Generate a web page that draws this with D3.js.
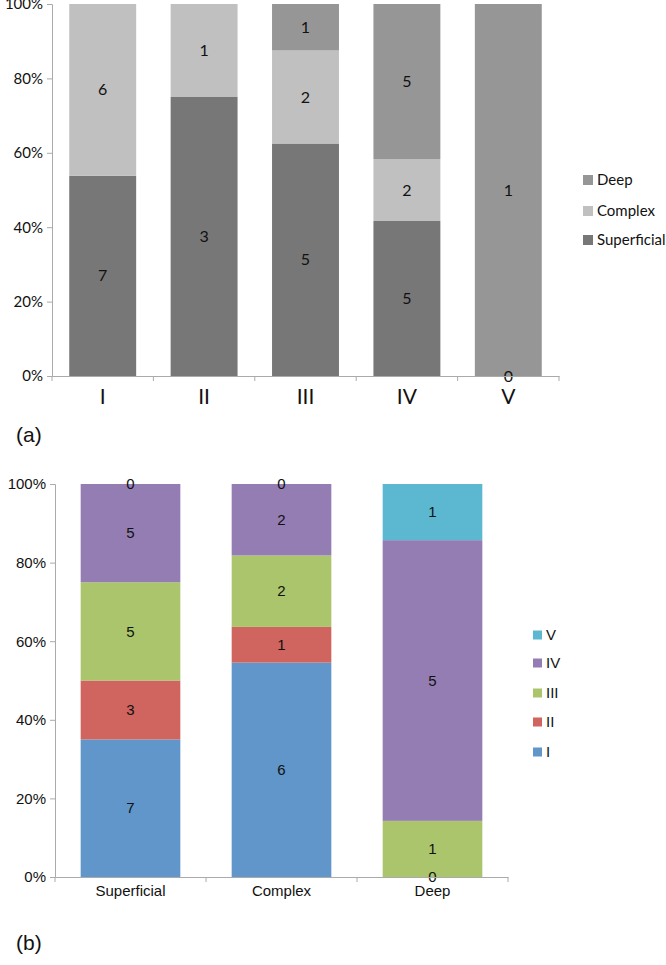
<!DOCTYPE html>
<html><head><meta charset="utf-8">
<script src="https://cdn.jsdelivr.net/npm/d3@7"></script>
<style>body{margin:0;background:#fff}svg{display:block}</style>
</head><body>
<svg id="c" width="666" height="965"></svg>
<script>
// ---- Chart (a) data ----
const catsA = ["I","II","III","IV","V"];
const seriesA = ["Superficial","Complex","Deep"];
const superficialA = [7,3,5,5,0];
const complexA = [6,1,2,2,0];
const deepA = [null,null,1,5,1];
const colorsA = ["#777777","#c0c0c0","#969696"];
// ---- Chart (b) data ----
const catsB = ["Superficial","Complex","Deep"];
const seriesB = ["I","II","III","IV","V"];
const valI = [7,6,0];
const valII = [3,1,0];
const valIII = [5,2,1];
const valIV = [5,2,5];
const valV = [0,0,1];
const colorsB = ["#6096c9","#d0645e","#aac56c","#947db3","#5cb8d1"];
const yTicks = [0,0.2,0.4,0.6,0.8,1];

const svg = d3.select("#c");

function drawChart(cfg){
  const g = svg.append("g");
  const x = d3.scaleBand().domain(cfg.cats).range([cfg.x0,cfg.x1]).paddingInner(cfg.pad).paddingOuter(cfg.pad/2);
  const y = d3.scaleLinear().domain([0,1]).range([cfg.y0,cfg.y1]);
  const rows = cfg.cats.map((c,i)=>{
    const vals = cfg.values.map(v=>v[i]);
    const total = d3.sum(vals.map(v=>v||0));
    let cum = 0;
    return vals.map((v,k)=>{ const a=cum; cum += (v||0); return {cat:c,k,v,p0:a/total,p1:cum/total}; });
  });
  rows.forEach(r=>r.forEach(d=>{
    if(d.v===null) return;
    g.append("rect").attr("x",x(d.cat)).attr("width",x.bandwidth())
      .attr("y",y(d.p1)).attr("height",y(d.p0)-y(d.p1)).attr("fill",cfg.colors[d.k]);
  }));
  const seen = new Set();
  rows.forEach(r=>r.forEach(d=>{
    if(d.v===null) return;
    const key = d.cat+"|"+((d.p0+d.p1)/2).toFixed(4);
    if(seen.has(key)) return; // coincident zero labels drawn once
    seen.add(key);
    g.append("text").attr("x",x(d.cat)+x.bandwidth()/2).attr("y",y((d.p0+d.p1)/2))
      .attr("dy","0.35em").attr("text-anchor","middle").attr("font-family",cfg.font)
      .attr("font-size",cfg.valSize).attr("fill","#111").text(d.v);
  }));
  const ya = g.append("g").attr("transform",`translate(${cfg.x0},0)`)
    .call(d3.axisLeft(y).tickValues(yTicks).tickFormat(d3.format(".0%")).tickSizeOuter(0).tickSize(5));
  ya.select(".domain").attr("stroke","#aaa");
  ya.selectAll(".tick line").attr("stroke","#aaa");
  ya.selectAll(".tick text").attr("font-family",cfg.font).attr("font-size",cfg.tickSize).attr("fill","#111").attr("x",-9);
  const xa = g.append("g").attr("transform",`translate(0,${cfg.y0})`)
    .call(d3.axisBottom(x).tickSize(0).tickSizeOuter(0));
  xa.select(".domain").attr("stroke","#aaa");
  xa.selectAll(".tick text").attr("font-family",cfg.font).attr("font-size",cfg.catSize).attr("fill","#111").attr("dy",0).attr("y",cfg.catDy);
  const bounds = cfg.cats.map(c=>x(c)-x.step()*x.paddingInner()/2).concat([cfg.x1]);
  bounds.forEach(b=>g.append("line").attr("x1",b).attr("x2",b).attr("y1",cfg.y0).attr("y2",cfg.y0+5).attr("stroke","#aaa"));
  cfg.series.forEach((s,k)=>{
    const ly = cfg.legY[k];
    g.append("rect").attr("x",cfg.legX).attr("y",ly-cfg.legSq/2).attr("width",cfg.legSq).attr("height",cfg.legSq).attr("fill",cfg.colors[k]);
    g.append("text").attr("x",cfg.legX+cfg.legSq+4).attr("y",ly).attr("dy","0.35em")
      .attr("font-family",cfg.font).attr("font-size",cfg.legSize).attr("fill","#111").text(s);
  });
  g.append("text").attr("x",cfg.tagX).attr("y",cfg.tagY).attr("font-family","Liberation Sans, Arial, sans-serif")
    .attr("font-size",21).attr("fill","#111").text(cfg.tag);
}

drawChart({
  cats:catsA, series:seriesA, values:[superficialA,complexA,deepA], colors:colorsA,
  x0:52, x1:559, y0:376, y1:4, pad:0.34,
  font:"Lato, 'Open Sans', sans-serif", valSize:16, tickSize:15, catSize:21, catDy:28,
  legX:583, legY:[240,211,180], legSq:10, legSize:15,
  tag:"(a)", tagX:16, tagY:442
});
drawChart({
  cats:catsB, series:seriesB, values:[valI,valII,valIII,valIV,valV], colors:colorsB,
  x0:55, x1:508, y0:877, y1:484, pad:0.34,
  font:"'Liberation Sans', Arial, sans-serif", valSize:15, tickSize:15, catSize:15, catDy:19,
  legX:533, legY:[752,722,693,663,635], legSq:9, legSize:15,
  tag:"(b)", tagX:16, tagY:950
});
</script>
</body></html>
